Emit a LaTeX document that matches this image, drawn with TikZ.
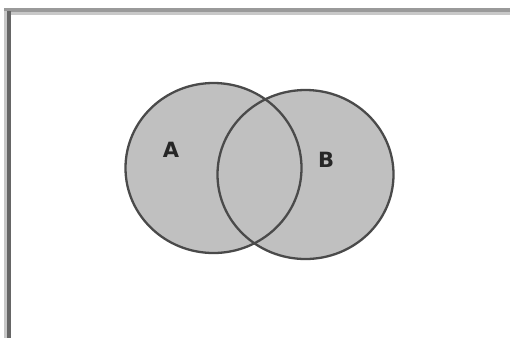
\documentclass[tikz,border=0pt]{standalone}
\usepackage{fontspec}
\setsansfont{DejaVu Sans}
\definecolor{setfill}{HTML}{C0C0C0}
\definecolor{setline}{HTML}{4A4A4A}
\definecolor{framedark}{HTML}{666666}
\definecolor{frametop}{HTML}{9A9A9A}
\definecolor{framelight}{HTML}{C8C8C8}
\tikzset{
  setlabel/.style={font=\sffamily\bfseries\fontsize{21}{24}\selectfont, text=black!85, inner sep=0pt},
  setedge/.style={setline, line width=2.3pt}
}
\begin{document}
\begin{tikzpicture}[x=1pt, y=-1pt]
  \useasboundingbox (0,0) rectangle (510,338);
  \fill[white] (0,0) rectangle (510,338);

  % Frame (top and left edges)
  \fill[frametop] (4,8) rectangle (510,11.7);
  \fill[framelight] (11,11.7) rectangle (510,15);
  \fill[framelight] (4,11) rectangle (7,338);
  \fill[framedark] (7,11) rectangle (11,338);

  % Set regions
  \coordinate (cA) at (213.5,168);
  \coordinate (cB) at (305.5,174.5);
  \fill[setfill] (cA) ellipse (88 and 85);
  \fill[setfill] (cB) ellipse (88 and 84.5);
  \draw[setedge] (cA) ellipse (88 and 85);
  \draw[setedge] (cB) ellipse (88 and 84.5);

  % Labels
  \node[setlabel] (labA) at (171,150) {A};
  \node[setlabel] (labB) at (326,160) {B};
\end{tikzpicture}
\end{document}
